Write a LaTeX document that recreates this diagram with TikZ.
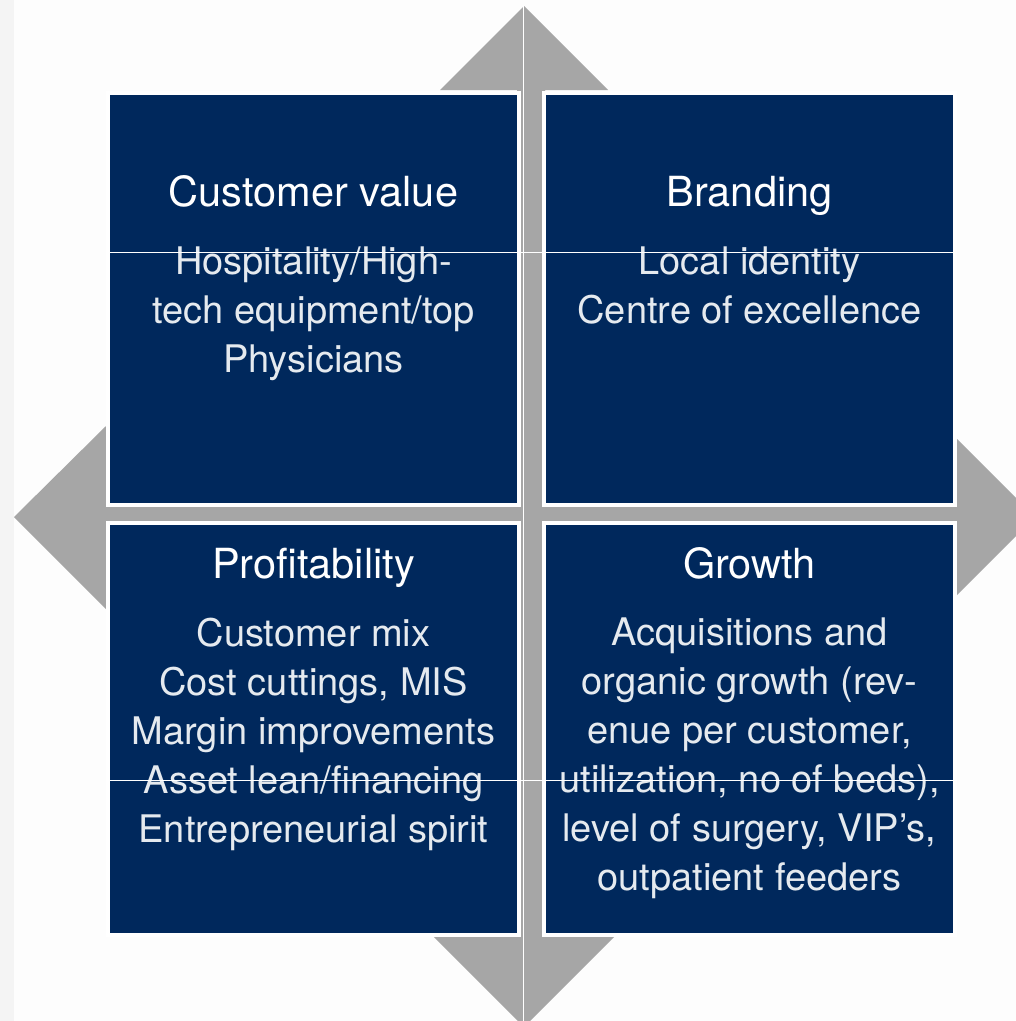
\documentclass[tikz,border=0pt]{standalone}
\usepackage{fontspec}
\setmainfont{TeX Gyre Heros}
\definecolor{navy}{RGB}{0,40,92}
\definecolor{arrowgrey}{RGB}{166,166,166}
\definecolor{bg}{RGB}{253,253,253}
\definecolor{strip}{RGB}{244,244,244}
\begin{document}
\begin{tikzpicture}[x=1pt,y=-1pt,
  quad/.style={draw=white, line width=4pt, fill=navy, minimum width=411pt, minimum height=412pt, inner sep=0pt},
  ttl/.style={text=white, font=\fontsize{41.5}{49}\selectfont, anchor=base, inner sep=0pt},
  bodytext/.style={text=white!90!navy, font=\fontsize{38}{49}\selectfont, align=center, anchor=north, inner sep=0pt},
  hairline/.style={white, line width=1pt}]
\useasboundingbox (0,0) rectangle (1016,1021);
\fill[bg] (0,0) rectangle (1016,1021);
\fill[strip] (0,0) rectangle (14,1021);
\begin{scope}
\clip (0,0) rectangle (1016,1021);
% vertical double arrow
\fill[arrowgrey] (524,6) -- (608,90) -- (545,90) -- (545,937) -- (614,937) -- (524,1027) -- (434,937) -- (517,937) -- (517,90) -- (440,90) -- cycle;
% horizontal double arrow
\fill[arrowgrey] (14,517) -- (106,426) -- (106,505) -- (957,505) -- (957,439) -- (1035,517) -- (957,595) -- (957,525) -- (106,525) -- (106,609) -- cycle;
\draw[hairline] (523.5,6) -- (523.5,1021);
\end{scope}
% quadrants
\node[quad] (q1) at (313.5,299) {};
\node[quad] (q2) at (749.5,299) {};
\node[quad] (q3) at (313.5,729) {};
\node[quad] (q4) at (749.5,729) {};
% titles
\node[ttl] (t1) at (313.5,206) {Customer value};
\node[ttl] (t2) at (749.5,206) {Branding};
\node[ttl] (t3) at (313.5,578) {Profitability};
\node[ttl] (t4) at (749.5,578) {Growth};
% bodies
\node[bodytext] (b1) at (313.5,247) {Hospitality/High-\\tech equipment/top\\Physicians};
\node[bodytext] (b2) at (749.5,247) {Local identity\\Centre of excellence};
\node[bodytext] (b3) at (313.5,618) {Customer mix\\Cost cuttings, MIS\\Margin improvements\\Asset lean/financing\\Entrepreneurial spirit};
\node[bodytext] (b4) at (749.5,618) {Acquisitions and\\organic growth (rev-\\enue per customer,\\utilization, no of beds),\\level of surgery, VIP's,\\outpatient feeders};
% thin white rules across
\draw[hairline] (109,252) -- (954,252);
\draw[hairline] (109,780) -- (954,780);
\end{tikzpicture}
\end{document}
